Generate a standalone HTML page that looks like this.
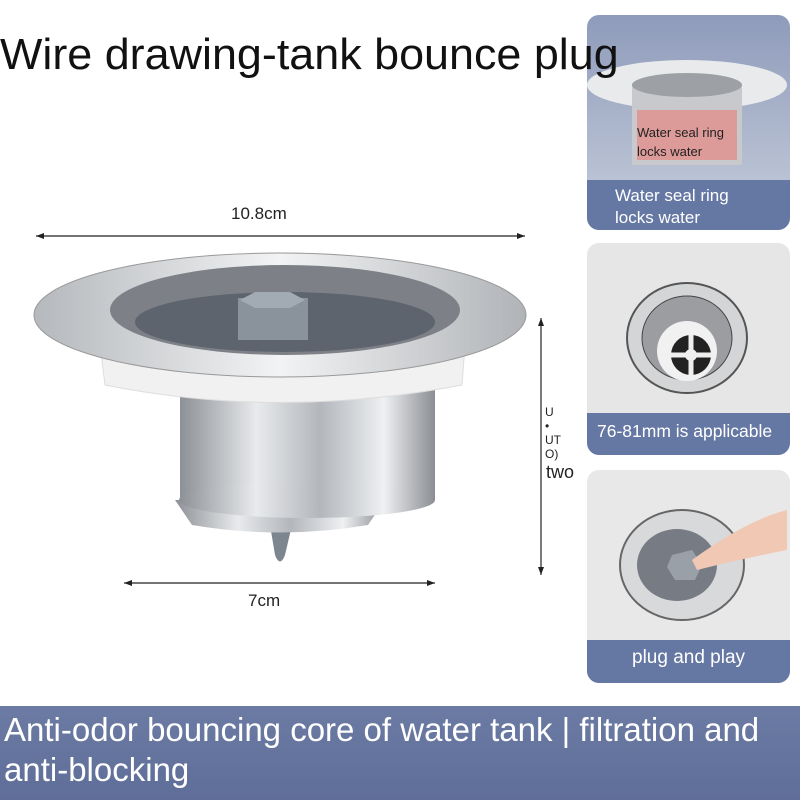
<!DOCTYPE html>
<html><head><style>
body{margin:0;width:800px;height:800px;background:#fff;position:relative;overflow:hidden;font-family:"Liberation Sans",sans-serif}
.t{position:absolute;white-space:nowrap}
.panel{position:absolute;left:587px;width:203px;border-radius:12px;overflow:hidden}
.band{position:absolute;left:0;right:0;bottom:0;background:#6577a3;color:#fff;font-size:17px}
</style></head><body>

<svg width="800" height="800" style="position:absolute;left:0;top:0">
<defs>
<linearGradient id="cup" x1="0" x2="1"><stop offset="0" stop-color="#8d9096"/><stop offset=".3" stop-color="#e8eaec"/><stop offset=".55" stop-color="#b3b6bb"/><stop offset=".8" stop-color="#eef0f2"/><stop offset="1" stop-color="#8a8d92"/></linearGradient>
<linearGradient id="fl" x1="0" x2="1"><stop offset="0" stop-color="#b5b8bc"/><stop offset=".5" stop-color="#f2f3f4"/><stop offset="1" stop-color="#b0b3b7"/></linearGradient>
</defs>
<line x1="36" y1="236" x2="525" y2="236" stroke="#222" stroke-width="1.2"/>
<path d="M36 236l8-3v6zM525 236l-8-3v6z" fill="#222"/>
<line x1="124" y1="583" x2="435" y2="583" stroke="#222" stroke-width="1.2"/>
<path d="M124 583l8-3v6zM435 583l-8-3v6z" fill="#222"/>
<line x1="541" y1="318" x2="541" y2="575" stroke="#222" stroke-width="1.2"/>
<path d="M541 318l-3 8h6zM541 575l-3-8h6z" fill="#222"/>
<path d="M270 525 L275 555 Q280 568 285 555 L292 525z" fill="#7d858f"/>
<path d="M175 500 L385 500 L368 525 Q280 540 192 525z" fill="url(#cup)"/>
<rect x="180" y="380" width="255" height="120" fill="url(#cup)"/>
<ellipse cx="307" cy="500" rx="128" ry="18" fill="url(#cup)"/>
<path d="M100 345 L465 345 L462 385 Q280 420 105 385z" fill="#f1f1f1" stroke="#ddd"/>
<ellipse cx="280" cy="315" rx="246" ry="62" fill="url(#fl)" stroke="#999"/>
<ellipse cx="285" cy="310" rx="175" ry="45" fill="#7d8086"/>
<ellipse cx="285" cy="322" rx="150" ry="30" fill="#5d646e"/>
<rect x="238" y="298" width="70" height="42" fill="#8a929c"/>
<polygon points="240,300 255,292 290,292 305,300 290,308 255,308" fill="#a2aab4"/>
</svg>
<div class="t" style="left:231px;top:204px;font-size:17px;color:#222">10.8cm</div>
<div class="t" style="left:248px;top:591px;font-size:17px;color:#222">7cm</div>
<div class="t" style="left:545px;top:405px;font-size:12px;color:#222;line-height:14px">U<br>•<br>UT<br>O)</div>
<div class="t" style="left:546px;top:462px;font-size:18px;color:#222">two</div>

<div class="panel" style="top:15px;height:215px;background:linear-gradient(#8e9bba,#c7cedc)">
<svg width="203" height="215" style="position:absolute;left:0;top:0">
<ellipse cx="100" cy="70" rx="100" ry="25" fill="#e9eaec"/>
<rect x="45" y="70" width="110" height="80" fill="#c8c9cc"/>
<rect x="50" y="95" width="100" height="50" fill="#dc9a98"/>
<ellipse cx="100" cy="70" rx="55" ry="12" fill="#9da0a4"/>
</svg>
<div class="t" style="left:50px;top:108px;font-size:13px;color:#222;line-height:19px">Water seal ring<br>locks water</div>
<div class="band" style="height:45px;padding:5px 0 0 28px;line-height:22px;overflow:hidden">Water seal ring<br>locks water</div>
</div>
<div class="panel" style="top:243px;height:212px;background:#e6e6e7">
<svg width="203" height="212" style="position:absolute;left:0;top:0">
<ellipse cx="100" cy="95" rx="60" ry="55" fill="#d4d5d7" stroke="#555" stroke-width="2"/>
<ellipse cx="100" cy="95" rx="45" ry="42" fill="#9b9da1" stroke="#444"/>
<ellipse cx="100" cy="108" rx="30" ry="30" fill="#f1f1f1"/>
<circle cx="104" cy="112" r="20" fill="#222"/><circle cx="104" cy="112" r="6" fill="#eee"/>
<path d="M84 112h40M104 92v40" stroke="#eee" stroke-width="5"/>
</svg>
<div class="band" style="height:42px;padding:8px 0 0 10px;box-sizing:border-box;font-size:17.5px">76-81mm is applicable</div>
</div>
<div class="panel" style="top:470px;height:213px;background:#e8e8e9">
<svg width="203" height="213" style="position:absolute;left:0;top:0">
<ellipse cx="95" cy="95" rx="62" ry="55" fill="#d8d9db" stroke="#666" stroke-width="2"/>
<ellipse cx="90" cy="95" rx="40" ry="36" fill="#777c84"/>
<polygon points="85,85 105,80 115,95 108,110 88,110 80,97" fill="#9aa0a8"/>
<path d="M105 90 Q160 50 200 40 L200 80 Q150 90 110 100z" fill="#f0c8b4"/>
</svg>
<div class="band" style="height:43px;padding:7px 0 0 45px;box-sizing:border-box;font-size:19px">plug and play</div>
</div>

<div class="t" style="left:0;top:30px;font-size:44px;color:#111;transform:scaleX(1.02);transform-origin:left;z-index:5">Wire drawing-tank bounce plug</div>

<div style="position:absolute;left:0;top:706px;width:800px;height:94px;background:linear-gradient(#6b7ba4,#5f6e98)"></div>
<div class="t" style="left:4px;top:710px;font-size:33px;color:#fff;line-height:40px">Anti-odor bouncing core of water tank | filtration and<br>anti-blocking</div>
</body></html>
